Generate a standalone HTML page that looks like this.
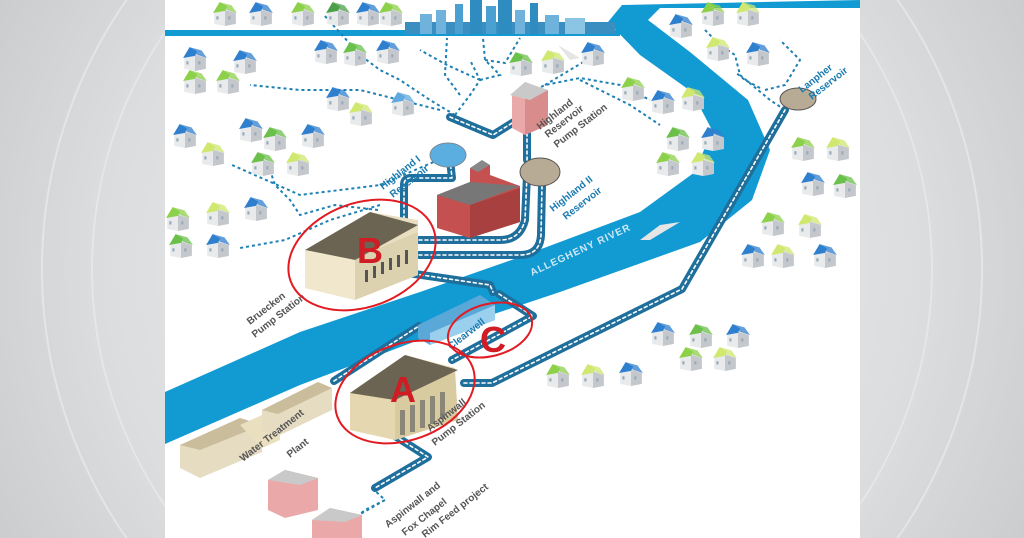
<!DOCTYPE html>
<html><head><meta charset="utf-8"><style>
html,body{margin:0;padding:0;width:1024px;height:538px;overflow:hidden;background:#d4d6d8}
svg{display:block}
text{font-family:"Liberation Sans",sans-serif;font-weight:bold}
</style></head><body>
<svg width="1024" height="538" viewBox="0 0 1024 538" xmlns="http://www.w3.org/2000/svg">
<defs>
<radialGradient id="bg" cx="512" cy="269" r="600" gradientUnits="userSpaceOnUse">
<stop offset="0" stop-color="#f2f2f2"/><stop offset="0.7" stop-color="#dadcde"/><stop offset="1" stop-color="#c8cacc"/></radialGradient>
<symbol id="h" viewBox="0 0 24 24">
<polygon points="2,11 12,7 22,11 22,22 12,24 2,22" fill="#e8eaec"/>
<polygon points="12,9 22,12 22,22 12,24" fill="#c4c8cc"/>
<polygon points="1,12 7,2 14,6 12,10" fill="currentColor"/>
<polygon points="7,2 18,5 23,12 14,9" fill="currentColor" opacity="0.75"/>
<rect x="4" y="15" width="2" height="3" fill="#9ab"/><rect x="15" y="15" width="2" height="3" fill="#9ab"/>
</symbol>
</defs>
<rect width="1024" height="538" fill="url(#bg)"/>
<circle cx="512" cy="269" r="470" fill="none" stroke="#fff" stroke-opacity="0.35" stroke-width="2"/>
<circle cx="512" cy="269" r="420" fill="none" stroke="#fff" stroke-opacity="0.3" stroke-width="2"/>
<rect x="165" y="0" width="695" height="538" fill="#fff"/>
<path d="M165,392 L300,332 L420,292 L520,257 L640,212 L695,172 L712,130 L692,92 L640,55 L608,22 L622,5 L860,0 L860,8 L660,8 L648,20 L690,52 L748,100 L770,150 L752,200 L700,242 L560,292 L440,332 L300,385 L165,444 Z" fill="#129ad3"/>
<rect x="165" y="30" width="455" height="6" fill="#129ad3"/>
<path d="M558,45 L580,58 L570,60 Z" fill="#e5e5e5"/>
<path d="M640,240 L660,225 L680,222 L650,240 Z" fill="#e5e5e5"/>
<g fill="#2e8cc0">
<rect x="405" y="22" width="210" height="12" fill="#3a8fc0"/>
<rect x="420" y="14" width="12" height="20" fill="#6fb3dc"/><rect x="436" y="10" width="10" height="24" fill="#6fb3dc"/>
<rect x="455" y="4" width="8" height="30" fill="#4aa0d0"/><rect x="470" y="0" width="12" height="34"/>
<rect x="486" y="6" width="10" height="28" fill="#4aa0d0"/><rect x="498" y="0" width="14" height="34"/>
<rect x="515" y="10" width="10" height="24" fill="#6fb3dc"/><rect x="530" y="3" width="8" height="31"/>
<rect x="545" y="15" width="14" height="19" fill="#6fb3dc"/><rect x="565" y="18" width="20" height="16" fill="#8cc4e4"/>
</g>
<g fill="none" stroke="#1d80b4" stroke-width="2" stroke-dasharray="3,3">
<path d="M378,210 L335,205 L300,215 L290,200 L275,185 L270,170 M380,205 L330,220 L285,240 L240,248"/>
<path d="M450,155 L380,185 L300,195 L232,165"/>
<path d="M440,110 L360,90 L300,90 L250,85"/>
<path d="M455,115 L430,100 L400,80 L380,70 L360,55 L324,15"/>
<path d="M455,115 L470,95 L480,80 L470,60 M480,80 L447,65 L420,50"/>
<path d="M460,95 L445,75 L447,38 M480,80 L500,75 L485,60 L483,38 M485,60 L505,63 L520,38"/>
<path d="M525,95 L545,85 L580,78 L620,85 L650,100"/>
<path d="M545,85 L570,70 L590,58"/>
<path d="M580,80 L630,105 L660,125"/>
<path d="M785,110 L770,100 L740,75 L735,55 L720,45 L705,30 M765,90 L785,85 L800,60 L780,40"/>
<path d="M760,88 L745,80 L735,72"/>
<path d="M372,488 L385,500 L350,520 L325,520 M385,500 L365,510 L340,530"/>
</g>
<g id="houses"></g>
<g fill="none" stroke-linejoin="round" stroke-linecap="round">
<g stroke="#1f6f9c" stroke-width="8">
<path id="p1" d="M419,240 L500,240 Q520,240 525,220 L527,175"/>
<path id="p2" d="M419,255 L520,255 Q540,255 541,235 L542,185"/>
<path id="p3" d="M404,225 L404,185 Q404,178 411,178 L452,178 L450,160"/>
<path id="p4" d="M527,160 L527,118"/>
<path id="p5" d="M517,120 L493,135 L450,117"/>
<path id="p6" d="M408,273 L490,285 L493,292"/>
<path id="p7" d="M499,294 L533,316 L452,360"/>
<path id="p8" d="M464,383 L492,383 L682,289 L785,110"/>
<path id="p9" d="M395,436 L428,457 L375,488"/>
<path id="p10" d="M334,381 L419,326"/>
</g>
<g stroke="#fff" stroke-width="1.6" stroke-dasharray="3,3">
<use href="#p1"/><use href="#p2"/><use href="#p3"/><use href="#p4"/><use href="#p5"/><use href="#p6"/><use href="#p7"/><use href="#p8"/><use href="#p9"/><use href="#p10"/>
</g>
</g>
<ellipse cx="448" cy="155" rx="18" ry="12" fill="#5aaee0" stroke="#7a8a95"/>
<ellipse cx="540" cy="172" rx="20" ry="14" fill="#b7ab96" stroke="#555"/>
<ellipse cx="798" cy="99" rx="18" ry="11" fill="#b7ab96" stroke="#555"/>
<polygon points="418,325 480,295 495,305 495,320 430,345 418,338" fill="#5aa8d8"/>
<polygon points="430,333 495,305 495,320 430,345" fill="#9ad0ee"/>
<polygon points="512,95 525,82 545,90 548,125 525,135 512,128" fill="#eaa9a8"/>
<polygon points="525,98 548,90 548,125 525,135" fill="#d88c8c"/>
<polygon points="510,95 525,82 548,90 530,100" fill="#c9c9c9"/>
<polygon points="437,195 470,182 470,168 490,165 490,175 520,186 520,222 470,238 437,228" fill="#c45050"/>
<polygon points="470,205 520,188 520,222 470,238" fill="#a84040"/>
<polygon points="437,195 470,182 520,186 470,205" fill="#777"/>
<polygon points="470,168 482,160 490,165 478,172" fill="#888"/>
<polygon points="305,250 370,212 418,220 418,275 355,300 305,288" fill="#e9dfc0"/>
<polygon points="355,258 418,232 418,275 355,300" fill="#ddd2b0"/>
<polygon points="305,250 370,212 418,225 355,260" fill="#6b6452"/>
<polygon points="305,250 355,260 355,300 305,288" fill="#f0e7cc"/>
<g fill="#555"><rect x="365" y="270" width="3" height="12"/><rect x="373" y="266" width="3" height="12"/><rect x="381" y="262" width="3" height="12"/><rect x="389" y="258" width="3" height="12"/><rect x="397" y="255" width="3" height="12"/><rect x="405" y="250" width="3" height="14"/></g>
<polygon points="350,393 405,355 455,368 458,420 395,440 350,430" fill="#e5d8b0"/>
<polygon points="395,395 455,372 458,420 395,440" fill="#d9cba0"/>
<polygon points="350,393 405,355 458,370 395,400" fill="#6b6452"/>
<g fill="#8a8678"><rect x="400" y="410" width="5" height="25"/><rect x="410" y="405" width="5" height="27"/><rect x="420" y="400" width="5" height="28"/><rect x="430" y="396" width="5" height="28"/><rect x="440" y="392" width="5" height="27"/></g>
<!-- water treatment plant -->
<polygon points="180,445 240,418 262,425 262,452 200,478 180,468" fill="#e6dcc2"/>
<polygon points="180,445 240,418 262,425 200,450" fill="#c9bd9c"/>
<polygon points="240,425 262,415 280,420 280,440 262,448" fill="#eadfbe"/>
<polygon points="262,410 318,382 332,388 332,410 278,436 262,430" fill="#e6dcc2"/>
<polygon points="262,410 318,382 332,388 278,414" fill="#c9bd9c"/>
<polygon points="268,480 285,470 318,478 318,510 285,518 268,510" fill="#eaa9a8"/>
<polygon points="268,480 285,470 318,478 300,485" fill="#c9c9c9"/>
<polygon points="312,520 330,508 362,515 362,538 312,538" fill="#eaa9a8"/>
<polygon points="312,520 330,508 362,515 345,522" fill="#c9c9c9"/>
<g fill="#1a7ab0" font-size="10">
<text transform="translate(383,190) rotate(-38)">Highland I</text>
<text transform="translate(393,198) rotate(-38)">Reservoir</text>
<text transform="translate(553,212) rotate(-38)">Highland II</text>
<text transform="translate(566,220) rotate(-38)">Reservoir</text>
<text transform="translate(802,93) rotate(-38)">Lanpher</text>
<text transform="translate(812,100) rotate(-38)">Reservoir</text>
<text transform="translate(451,350) rotate(-38)">Clearwell</text>
</g>
<text transform="translate(532,276) rotate(-25)" fill="#cfe8f5" font-size="10" font-weight="normal" letter-spacing="1">ALLEGHENY RIVER</text>
<g fill="#555" font-size="10">
<text transform="translate(540,130) rotate(-38)">Highland</text>
<text transform="translate(548,138) rotate(-38)">Reservoir</text>
<text transform="translate(557,148) rotate(-38)">Pump Station</text>
<text transform="translate(250,325) rotate(-38)">Bruecken</text>
<text transform="translate(255,338) rotate(-38)">Pump Station</text>
<text transform="translate(243,462) rotate(-38)">Water Treatment</text>
<text transform="translate(290,458) rotate(-38)">Plant</text>
<text transform="translate(430,432) rotate(-38)">Aspinwall</text>
<text transform="translate(435,446) rotate(-38)">Pump Station</text>
<text transform="translate(388,528) rotate(-38)">Aspinwall and</text>
<text transform="translate(405,536) rotate(-38)">Fox Chapel</text>
<text transform="translate(425,538) rotate(-38)">Rim Feed project</text>
</g>
<g fill="none" stroke="#e21b22" stroke-width="2">
<ellipse cx="362" cy="255" rx="76" ry="52" transform="rotate(-20 362 255)"/>
<ellipse cx="405" cy="392" rx="72" ry="48" transform="rotate(-20 405 392)"/>
<ellipse cx="490" cy="330" rx="43" ry="26" transform="rotate(-15 490 330)"/>
</g>
<g fill="#d01c24" font-size="36" font-family="Liberation Sans">
<text x="357" y="263">B</text><text x="390" y="402">A</text><text x="480" y="352">C</text>
</g>
</svg>
<script>
var H=[[212,0,'#8dd04a'],[248,0,'#2f7fcf'],[290,0,'#8dd04a'],[325,0,'#4da04a'],[355,0,'#2f7fcf'],[378,0,'#8dd04a'],
[182,45,'#2f7fcf'],[232,48,'#2f7fcf'],[182,68,'#8dd04a'],[215,68,'#8dd04a'],[313,38,'#2f7fcf'],[342,40,'#6ac04a'],[375,38,'#2f7fcf'],
[325,85,'#2f7fcf'],[348,100,'#d0e870'],[390,90,'#5fa8e0'],
[172,122,'#2f7fcf'],[200,140,'#d0e870'],[238,116,'#2f7fcf'],[262,125,'#6ac04a'],[300,122,'#2f7fcf'],[250,150,'#6ac04a'],[285,150,'#d0e870'],
[165,205,'#8dd04a'],[205,200,'#d0e870'],[243,195,'#2f7fcf'],[168,232,'#6ac04a'],[205,232,'#2f7fcf'],
[508,50,'#6ac04a'],[540,48,'#d0e870'],[580,40,'#2f7fcf'],[668,12,'#2f7fcf'],[700,0,'#8dd04a'],[735,0,'#d0e870'],
[705,35,'#d0e870'],[745,40,'#2f7fcf'],[620,75,'#8dd04a'],[650,88,'#2f7fcf'],[680,85,'#d0e870'],
[665,125,'#6ac04a'],[700,125,'#2f7fcf'],[655,150,'#8dd04a'],[690,150,'#d0e870'],
[790,135,'#8dd04a'],[825,135,'#d0e870'],[800,170,'#2f7fcf'],[832,172,'#6ac04a'],[760,210,'#8dd04a'],[797,212,'#d0e870'],
[740,242,'#2f7fcf'],[770,242,'#d0e870'],[812,242,'#2f7fcf'],
[650,320,'#2f7fcf'],[688,322,'#6ac04a'],[725,322,'#2f7fcf'],[678,345,'#8dd04a'],[712,345,'#d0e870'],
[545,362,'#8dd04a'],[580,362,'#d0e870'],[618,360,'#2f7fcf']];
var g=document.getElementById('houses'),s='';
H.forEach(function(h){s+='<use href="#h" x="'+h[0]+'" y="'+h[1]+'" width="26" height="26" style="color:'+h[2]+'"/>';});
g.innerHTML=s;
</script>
</body></html>
